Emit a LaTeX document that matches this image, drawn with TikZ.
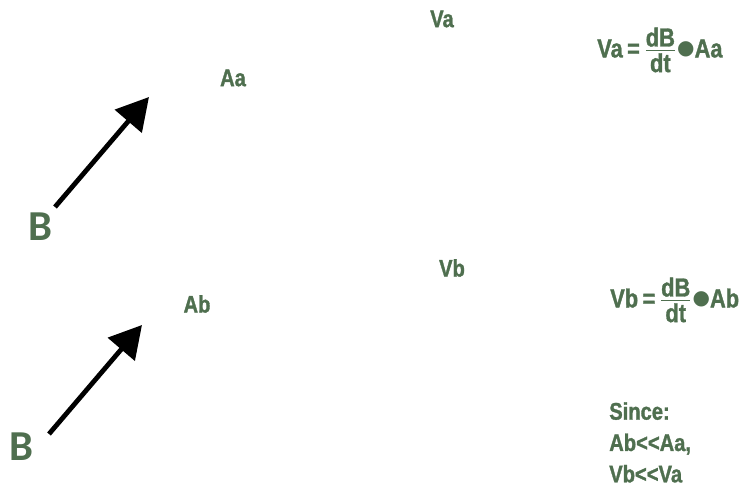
\documentclass[tikz,border=0pt]{standalone}
\usepackage{fontspec}
\usepackage{amsmath}
\usepackage{xcolor}
\usepackage{tikz}
\usetikzlibrary{arrows.meta,positioning}
\setmainfont{Liberation Sans}[FakeStretch=0.84, BoldFeatures={FakeBold=1.2}]
\newfontfamily\bfont{Carlito}
\newfontfamily\dotfont{DejaVu Sans}
\definecolor{fluxgreen}{RGB}{79,111,79}
\newcommand{\fluxeq}[2]{#1\,=\,$\genfrac{}{}{1.4pt}{1}{\hbox{dB}}{\hbox{dt}}$\hspace{0.5pt}\raisebox{2pt}{\dotfont\fontsize{15}{15}\selectfont ●}#2}
\tikzset{
    lbl/.style={text=fluxgreen, inner sep=0pt, font=\fontsize{18}{20}\selectfont\bfseries},
    eqlbl/.style={text=fluxgreen, inner sep=0pt, anchor=west, font=\fontsize{19.5}{20}\selectfont\bfseries},
    blbl/.style={text=fluxgreen, inner sep=0pt, font=\fontsize{32}{34}\selectfont\bfont\bfseries},
    fluxarrow/.style={line width=3.6pt, -{Triangle[length=24pt,width=26pt]}}
}

\begin{document}
\begin{tikzpicture}[x=0.75pt, y=-0.75pt]
    \useasboundingbox (0,0) rectangle (744,488);

    % Big loop
    \node[lbl] (Va) at (442,19) {Va};
    \node[lbl] (Aa) at (233,78) {Aa};
    \node[blbl] (Ba) at (40,227) {B};
    \coordinate (taila) at (55,207);
    \coordinate (tipa) at (149,97);
    \draw[fluxarrow] (taila) -- (tipa);

    % Small loop
    \node[lbl] (Vb) at (452,268) {Vb};
    \node[lbl] (Ab) at (197,304) {Ab};
    \node[blbl] (Bb) at (21,447) {B};
    \coordinate (tailb) at (49,434);
    \coordinate (tipb) at (142,325);
    \draw[fluxarrow] (tailb) -- (tipb);

    % Equations
    \node[eqlbl] (eqa) at (597,50) {\fluxeq{Va}{Aa}};
    \node[eqlbl] (eqb) at (610,300) {\fluxeq{Vb}{Ab}};
    \node[lbl, anchor=north west, align=left, font=\fontsize{18}{23.5}\selectfont\bfseries] (since) at (609,402)
        {Since:\\Ab<{}<Aa,\\Vb<{}<Va};
\end{tikzpicture}
\end{document}
